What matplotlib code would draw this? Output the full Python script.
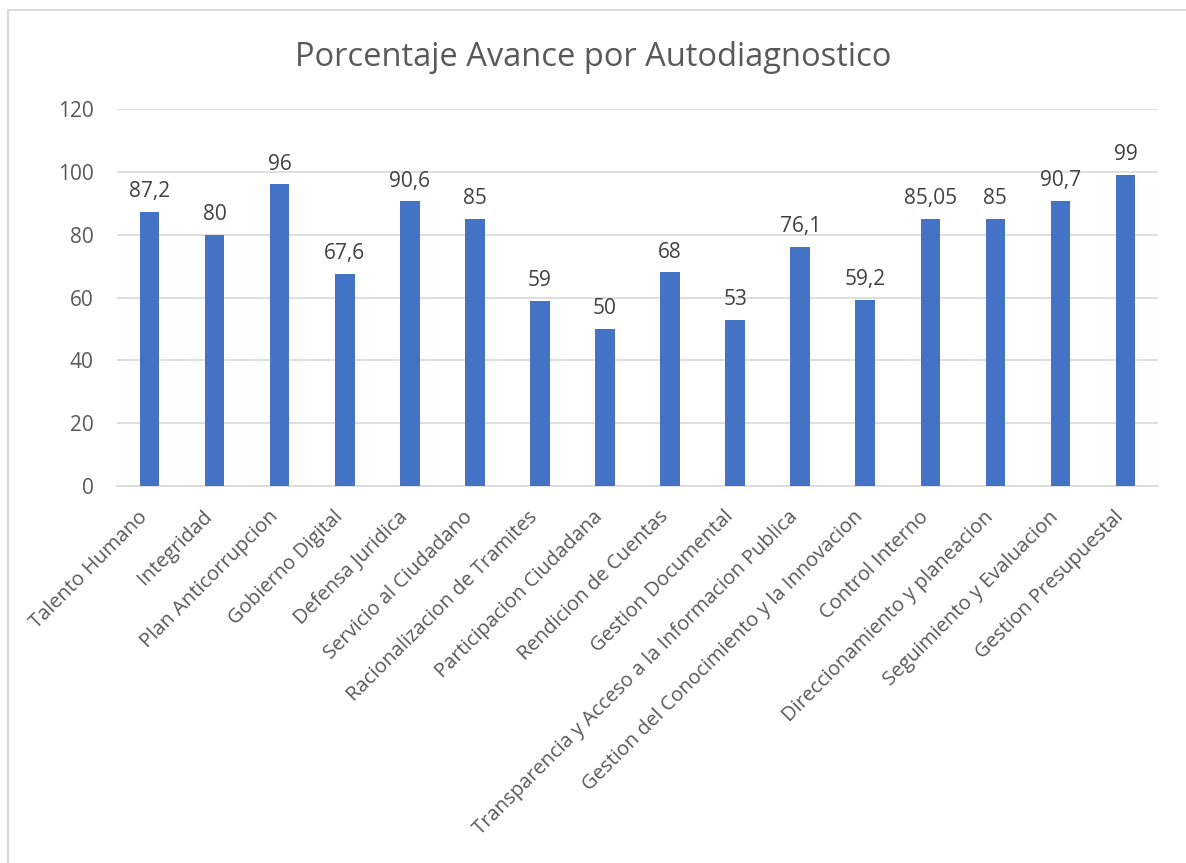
import matplotlib.pyplot as plt
from matplotlib.lines import Line2D
from matplotlib.transforms import offset_copy

categorias = ["Talento Humano", "Integridad", "Plan Anticorrupcion", "Gobierno Digital",
              "Defensa Juridica", "Servicio al Ciudadano", "Racionalizacion de Tramites",
              "Participacion Ciudadana", "Rendicion de Cuentas", "Gestion Documental",
              "Transparencia y Acceso a la Informacion Publica",
              "Gestion del Conocimiento y la Innovacion", "Control Interno",
              "Direccionamiento y planeacion", "Seguimiento y Evaluacion",
              "Gestion Presupuestal"]
valores = [87.2, 80, 96, 67.6, 90.6, 85, 59, 50, 68, 53, 76.1, 59.2, 85.05, 85, 90.7, 99]
etiquetas = ["87,2", "80", "96", "67,6", "90,6", "85", "59", "50", "68", "53", "76,1",
             "59,2", "85,05", "85", "90,7", "99"]
yticks = [0, 20, 40, 60, 80, 100, 120]

plt.rcParams['font.family'] = ['Open Sans', 'DejaVu Sans']

fig = plt.figure(figsize=(11.86, 8.63), dpi=100)
ax = fig.add_axes([0.0987, 0.4368, 0.8777, 0.4369])

x = range(len(categorias))
barras = ax.bar(x, valores, width=0.3, color='#4472C4', zorder=3)
ax.bar_label(barras, labels=etiquetas, padding=7, fontsize=15, color='#404040')

ax.set_xlim(-0.5, len(categorias) - 0.5)
ax.set_ylim(0, 120)
ax.set_yticks(yticks)
ax.set_yticklabels([str(v) for v in yticks], fontsize=15, color='#595959')
ax.set_xticks(list(x))
ax.set_xticklabels(categorias, rotation=45, ha='right', rotation_mode='anchor',
                   fontsize=14.5, color='#595959')
ax.tick_params(axis='both', length=0)
ax.tick_params(axis='y', pad=17)
ax.tick_params(axis='x', pad=15)
# desplazar etiquetas un poco a la izquierda como en excel
for lab in ax.get_xticklabels():
    lab.set_transform(offset_copy(lab.get_transform(), fig=fig, x=-12, y=0, units='dots'))
ax.grid(axis='y', color='#D9D9D9', linewidth=1.2, zorder=0)
for s in ['top', 'right', 'left']:
    ax.spines[s].set_visible(False)
ax.spines['bottom'].set_color('#D9D9D9')
ax.spines['bottom'].set_linewidth(1.2)

fig.suptitle("Porcentaje Avance por Autodiagnostico", fontsize=23.5, color='#595959',
             y=0.953)

# borde del grafico
fig.add_artist(Line2D([8 / 1186, 1], [1 - 10 / 863, 1 - 10 / 863], color='#D9D9D9', lw=1.5))
fig.add_artist(Line2D([8 / 1186, 8 / 1186], [0, 1 - 10 / 863], color='#D9D9D9', lw=1.5))

fig.savefig("out.png", dpi=100)
